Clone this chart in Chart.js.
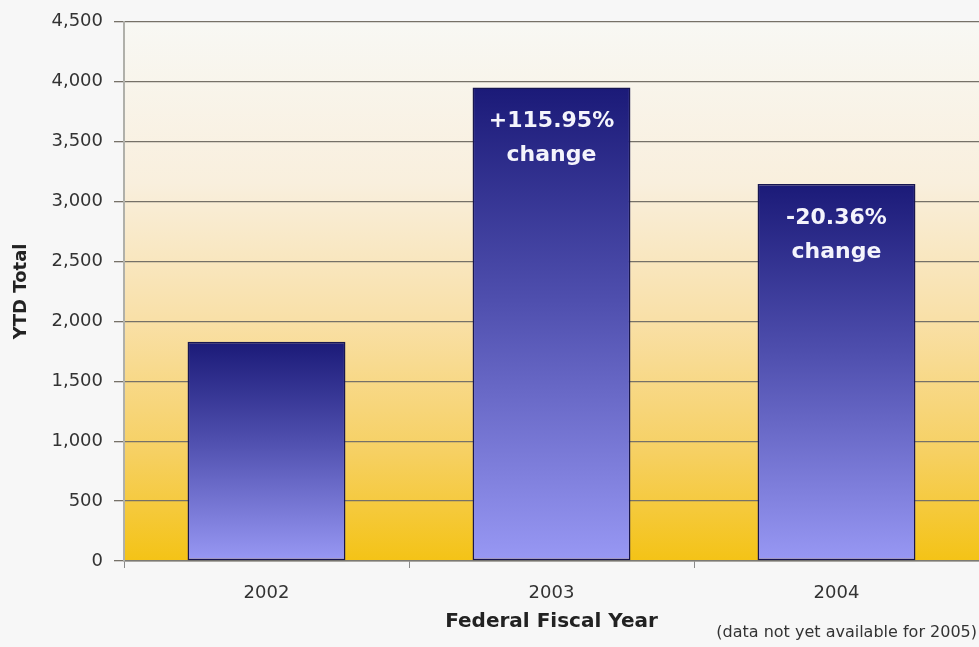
<!DOCTYPE html>
<html><head><meta charset="utf-8">
<script src="https://cdn.jsdelivr.net/npm/chart.js@4"></script>
<style>html,body{margin:0;padding:0;background:#f7f7f7}</style>
</head><body>
<canvas id="c" width="979" height="647"></canvas>
<script>
const categories = ['2002', '2003', '2004'];
const ytdTotals = [1830, 3952, 3147];
const changeLabels = [null, '+115.95%', '-20.36%'];
const changeSuffix = 'change';
const yMin = 0, yMax = 4500, yStep = 500;
const xAxisTitle = 'Federal Fiscal Year';
const yAxisTitle = 'YTD Total';
const footnote = '(data not yet available for 2005)';

const FONT = 'DejaVu Sans';

const bgPlugin = {
  id: 'bg',
  beforeDraw(chart) {
    const {ctx, chartArea: a} = chart;
    ctx.save();
    ctx.fillStyle = '#f7f7f7';
    ctx.fillRect(0, 0, chart.width, chart.height);
    const g = ctx.createLinearGradient(0, a.top, 0, a.bottom);
    g.addColorStop(0, '#f8f8f4');
    g.addColorStop(0.3, '#f9efdd');
    g.addColorStop(0.55, '#f9e0a8');
    g.addColorStop(0.8, '#f6d062');
    g.addColorStop(1, '#f4c316');
    ctx.fillStyle = g;
    ctx.fillRect(a.left, a.top, a.right - a.left, a.bottom - a.top);
    ctx.restore();
  }
};

const labelPlugin = {
  id: 'changeLabels',
  afterDatasetsDraw(chart) {
    const {ctx} = chart;
    const meta = chart.getDatasetMeta(0);
    ctx.save();
    ctx.fillStyle = '#f4f4fc';
    ctx.textAlign = 'center';
    ctx.textBaseline = 'middle';
    ctx.font = 'bold 22px "' + FONT + '"';
    meta.data.forEach((bar, i) => {
      const t = changeLabels[i];
      if (!t) return;
      ctx.fillText(t, bar.x, bar.y + 34);
      ctx.fillText(changeSuffix, bar.x, bar.y + 68);
    });
    ctx.restore();
  },
  afterDraw(chart) {
    const {ctx} = chart;
    ctx.save();
    ctx.fillStyle = '#333';
    ctx.textAlign = 'right';
    ctx.textBaseline = 'middle';
    ctx.font = '16px "' + FONT + '"';
    ctx.fillText(footnote, 977, 633);
    ctx.restore();
  }
};

new Chart(document.getElementById('c'), {
  type: 'bar',
  data: {
    labels: categories,
    datasets: [{
      data: ytdTotals,
      backgroundColor: (c) => {
        const chart = c.chart;
        const {chartArea, scales} = chart;
        if (!chartArea || !scales.y) return '#5a5ab8';
        const top = scales.y.getPixelForValue(c.raw);
        const bottom = scales.y.getPixelForValue(0);
        const g = chart.ctx.createLinearGradient(0, top, 0, bottom);
        g.addColorStop(0, '#1b1a78');
        g.addColorStop(0.45, '#4f4fae');
        g.addColorStop(1, '#9898f4');
        return g;
      },
      borderColor: '#181650',
      borderWidth: 1.5,
      borderSkipped: false,
      barPercentage: 0.554,
      categoryPercentage: 1
    }]
  },
  options: {
    responsive: false,
    animation: false,
    devicePixelRatio: 1,
    layout: {padding: {top: 20, right: 0, bottom: 0, left: 0}},
    plugins: {legend: {display: false}, tooltip: {enabled: false}},
    scales: {
      x: {
        grid: {display: true, drawOnChartArea: false, drawTicks: true, tickLength: 7, color: '#8a8a8a', offset: true},
        border: {display: true, color: '#7c7a72', width: 1.5},
        ticks: {font: {family: FONT, size: 18}, color: '#333', padding: 15},
        title: {display: true, text: xAxisTitle, color: '#222',
          font: {family: FONT, size: 20, weight: 'bold'}, padding: {top: 0, bottom: 13}},
        afterFit: s => { s.height = 86; }
      },
      y: {
        min: yMin, max: yMax,
        ticks: {stepSize: yStep, font: {family: FONT, size: 18}, color: '#333', padding: 11},
        grid: {color: '#767168', tickLength: 10, lineWidth: 1.3},
        border: {color: '#b0b0aa', width: 2},
        title: {display: true, text: yAxisTitle, color: '#222',
          font: {family: FONT, size: 18, weight: 'bold'}, padding: {top: 11, bottom: 0}},
        afterFit: s => { s.width = 124; }
      }
    }
  },
  plugins: [bgPlugin, labelPlugin]
});
</script>
</body></html>
